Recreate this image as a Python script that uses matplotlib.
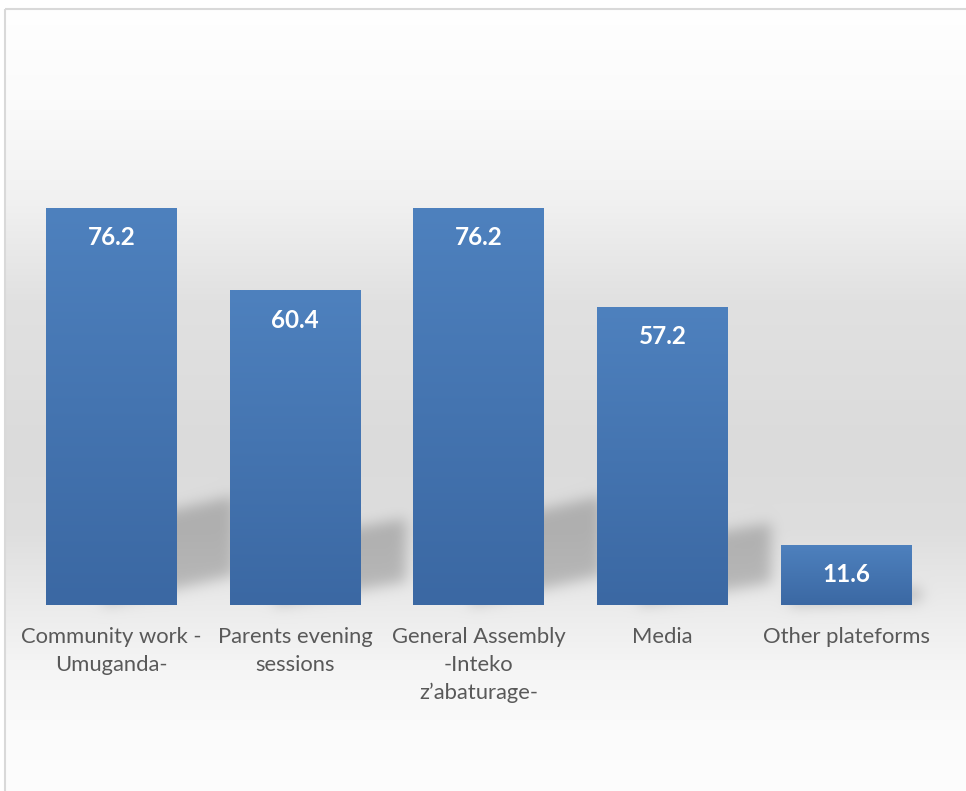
import numpy as np
import matplotlib
matplotlib.use("Agg")
import matplotlib.pyplot as plt
from matplotlib.path import Path

# Channels used to share information (%)
categories = [
    "Community work -\nUmuganda-",
    "Parents evening\nsessions",
    "General Assembly\n-Inteko\nz\u2019abaturage-",
    "Media",
    "Other plateforms",
]
values = [76.2, 60.4, 76.2, 57.2, 11.6]

W, H, DPI = 966, 791, 100
FONT = "Lato"

fig = plt.figure(figsize=(W / DPI, H / DPI), dpi=DPI)

# full-figure layer for the backdrop, border and soft bar shadows
bg = fig.add_axes([0, 0, 1, 1], zorder=0)
bg.set_xlim(0, W)
bg.set_ylim(0, H)
bg.axis("off")

ax = fig.add_axes([19.65 / W, (H - 605) / H, 918.5 / W, 521 / H], zorder=1)
ax.patch.set_alpha(0)

x = np.arange(len(values))
bars = ax.bar(x, values, width=0.713, color="#4677b3", zorder=2)
ax.set_xlim(-0.5, len(values) - 0.5)
ax.set_ylim(0, 100)

# vertical gradient fill on each bar
top_c = np.array([78, 129, 190]) / 255
bot_c = np.array([59, 104, 163]) / 255
t = np.linspace(0, 1, 256)[:, None]
grad = (top_c[None, :] * (1 - t) + bot_c[None, :] * t)[:, None, :]
for b in bars:
    bx, bw, bh = b.get_x(), b.get_width(), b.get_height()
    im = ax.imshow(grad, extent=[bx, bx + bw, 0, bh], origin="upper",
                   aspect="auto", zorder=3, interpolation="bilinear")
    im.set_clip_path(b)
ax.set_xlim(-0.5, len(values) - 0.5)
ax.set_ylim(0, 100)

# backdrop gradient (rows counted from the top of the image)
rows = np.arange(H) + 0.5
keys = [0, 100, 200, 300, 450, 530, 605, 660, 730, 791]
levels = [255, 251, 241, 225, 219, 222, 235, 244, 251, 253]
col = np.interp(rows, keys, levels) / 255.0
img = np.repeat(col[:, None], W, axis=1)

# perspective shadows cast up and to the right of each bar;
# offset and thickness scale with the bar height
xs = np.arange(W) + 0.5
X, Y = np.meshgrid(xs, H - rows)
pts = np.column_stack([X.ravel(), Y.ravel()])
mask = np.zeros(H * W)
for b in bars:
    (px0, py0), (px1, py1) = ax.transData.transform(
        [(b.get_x(), 0), (b.get_x() + b.get_width(), b.get_height())])
    hp = py1 - py0
    dx = 0.145 * hp
    rise = 0.075 * hp
    sh = 0.2 * hp
    poly = Path([(px0 + dx, py0), (px1 + dx, py0 + rise),
                 (px1 + dx, py0 + rise + sh), (px0 + dx, py0 + sh)])
    mask = np.maximum(mask, poly.contains_points(pts).astype(float))
mask = mask.reshape(H, W)

sigma = 7.0
k = np.arange(-24, 25)
kern = np.exp(-0.5 * (k / sigma) ** 2)
kern /= kern.sum()
mask = np.apply_along_axis(lambda r: np.convolve(r, kern, mode="same"), 1, mask)
mask = np.apply_along_axis(lambda c: np.convolve(c, kern, mode="same"), 0, mask)

img = img * (1 - 0.21 * mask)

# white outside the chart frame
img[:9, :] = 1.0
img[:, :5] = 1.0
bg.imshow(np.dstack([img] * 3), extent=(0, W, 0, H), origin="upper",
          aspect="auto", interpolation="nearest", zorder=0)
bg.plot([4.5, 4.5], [0, H - 8.5], color="#d9d9d9", lw=1.5, zorder=1,
        solid_capstyle="butt")
bg.plot([4.5, W], [H - 8.5, H - 8.5], color="#d9d9d9", lw=1.5, zorder=1,
        solid_capstyle="butt")
bg.set_xlim(0, W)
bg.set_ylim(0, H)

# value labels inside the bars
for xi, v in zip(x, values):
    ax.annotate(f"{v}", (xi, v), xytext=(0, -30 * 72 / DPI),
                textcoords="offset points", ha="center", va="center",
                color="white", fontsize=17.5, fontweight="bold",
                family=FONT, zorder=5)

ax.set_xticks(x)
ax.set_xticklabels(categories, family=FONT, fontsize=15.8, color="#595959")
for lbl in ax.get_xticklabels():
    lbl.set_linespacing(1.48)
ax.tick_params(axis="x", length=0, pad=16)
ax.set_yticks([])
for s in ax.spines.values():
    s.set_visible(False)

fig.savefig("out.png", dpi=DPI)
